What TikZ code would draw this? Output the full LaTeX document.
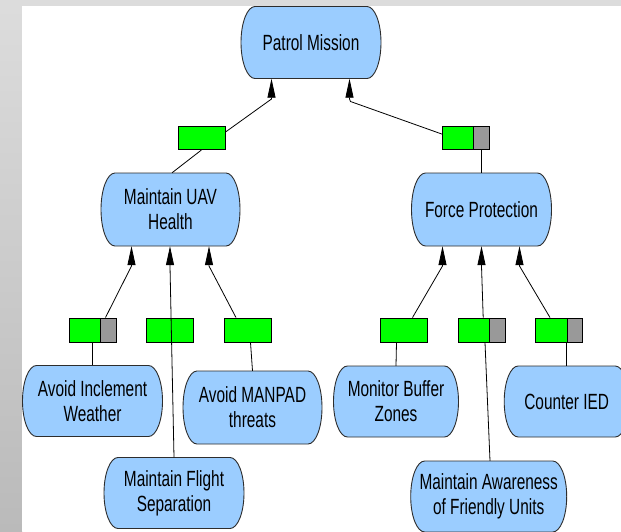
\documentclass[tikz,border=0pt]{standalone}
\usepackage{fontspec}
\setmainfont[FakeStretch=0.70]{Liberation Sans}
\usetikzlibrary{arrows.meta}

\definecolor{goalblue}{RGB}{155,205,255}
\definecolor{goalline}{RGB}{45,45,45}
\definecolor{okgreen}{RGB}{0,255,0}
\definecolor{partgrey}{RGB}{153,153,153}
\definecolor{pagegrey}{RGB}{220,220,220}
\definecolor{stripbottom}{RGB}{186,186,186}

\tikzset{
  goaltext/.style={align=center, font=\fontsize{22}{25}\selectfont, inner sep=0pt},
  goalshape/.style={fill=goalblue, draw=goalline, line width=0.9pt},
  linkbox/.style={rectangle, draw=black, fill=okgreen, line width=0.9pt,
    minimum width=47pt, inner sep=0pt},
  splitbox/.style={linkbox, path picture={
    \fill[partgrey] ([xshift=-15.5pt]path picture bounding box.north east)
      rectangle (path picture bounding box.south east);
    \draw[line width=0.9pt] ([xshift=-15.5pt]path picture bounding box.north east)
      -- ([xshift=-15.5pt]path picture bounding box.south east);}},
  link/.style={draw=black, line width=0.8pt},
  support/.style={link, -{Triangle[length=19pt,width=8pt]}},
}

% goal: name, centre x, centre y (measured downwards), width, height, text
\newcommand\goalnode[6]{%
  \path[goalshape] (#2-#4/2+14,-#3+#5/2) -- (#2+#4/2-14,-#3+#5/2)
    arc[start angle=90,end angle=-90,x radius=14,y radius=#5/2]
    -- (#2-#4/2+14,-#3-#5/2)
    arc[start angle=270,end angle=90,x radius=14,y radius=#5/2] -- cycle;
  \node[goaltext, minimum width=#4pt, minimum height=#5pt] (#1) at (#2,-#3) {#6};
}

\begin{document}
\begin{tikzpicture}[x=1pt,y=1pt]
  \useasboundingbox (0,0) rectangle (621,-531);
  \clip (0,0) rectangle (621,-531);

  % page frame
  \fill[pagegrey] (0,0) rectangle (621,-6);
  \shade[top color=pagegrey, bottom color=stripbottom] (0,-6) rectangle (22,-531);
  \fill[white] (22,-6) rectangle (621,-531);

  % goals
  \goalnode{pm}{311}{42.5}{140}{72}{Patrol Mission}
  \goalnode{uav}{170.5}{209.5}{139}{73}{Maintain UAV\\Health}
  \goalnode{fp}{481.5}{209.5}{140}{73}{Force Protection}
  \goalnode{aiw}{92.5}{401}{140}{71}{Avoid Inclement\\Weather}
  \goalnode{amt}{252.5}{407.5}{139}{73}{Avoid MANPAD\\threats}
  \goalnode{mfs}{174}{493}{140}{71}{Maintain Flight\\Separation}
  \goalnode{mbz}{396}{401.5}{125}{71}{Monitor Buffer\\Zones}
  \goalnode{cied}{566.7}{401.5}{125}{71}{Counter IED}
  \goalnode{maf}{488.7}{496.5}{156}{71}{Maintain Awareness\\of Friendly Units}

  % status boxes
  \node[linkbox, minimum height=23pt] (bUAV) at (201.5,-138) {};
  \node[splitbox, minimum height=23pt] (bFP) at (465.8,-138) {};
  \node[splitbox, minimum height=24pt] (bA) at (92.5,-330) {};
  \node[linkbox, minimum height=24pt] (bB) at (170,-330) {};
  \node[linkbox, minimum height=24pt] (bC) at (248,-330) {};
  \node[linkbox, minimum height=24pt] (bD) at (403.5,-330) {};
  \node[splitbox, minimum height=24pt] (bE) at (481.7,-330) {};
  \node[splitbox, minimum height=24pt] (bF) at (559.3,-330) {};

  % arrow bases
  \coordinate (aPM1) at (271.5,-99);
  \coordinate (aPM2) at (349.5,-99);
  \coordinate (aU1) at (131.5,-266);
  \coordinate (aU2) at (170,-266);
  \coordinate (aU3) at (209,-266);
  \coordinate (aF1) at (442.5,-266);
  \coordinate (aF2) at (481.5,-266);
  \coordinate (aF3) at (519.5,-266);

  % top level
  \draw[link] ([xshift=1.5pt]uav.north) -- (bUAV.south);
  \draw[support] ([yshift=-6pt]bUAV.north east) -- (aPM1) -- (aPM1 |- pm.south);
  \draw[link] (fp.north) -- (bFP.south -| fp.north);
  \draw[support] ([yshift=-8pt]bFP.north west) -- (350.5,-101.5) -- (aPM2) -- (aPM2 |- pm.south);

  % under Maintain UAV Health
  \draw[link] (aiw.north) -- (bA.south);
  \draw[support] ([xshift=13pt]bA.north) -- (aU1) -- (aU1 |- uav.south);
  \draw[support] (mfs.north) -- (aU2) -- (aU2 |- uav.south);
  \draw[link] (amt.north) -- ([xshift=2.5pt]bC.south);
  \draw[support] ([xshift=-12pt]bC.north) -- (aU3) -- (aU3 |- uav.south);

  % under Force Protection
  \draw[link] (mbz.north) -- ([xshift=-7pt]bD.south);
  \draw[support] ([xshift=9pt]bD.north) -- (aF1) -- (aF1 |- fp.south);
  \draw[link] ([xshift=1.3pt]maf.north) -- ([xshift=3.3pt]bE.south);
  \draw[support] ([xshift=1.5pt]bE.north) -- (aF2) -- (aF2 |- fp.south);
  \draw[link] (cied.north) -- (bF.south -| cied.north);
  \draw[support] ([xshift=-9.3pt]bF.north) -- (aF3) -- (aF3 |- fp.south);
\end{tikzpicture}
\end{document}
